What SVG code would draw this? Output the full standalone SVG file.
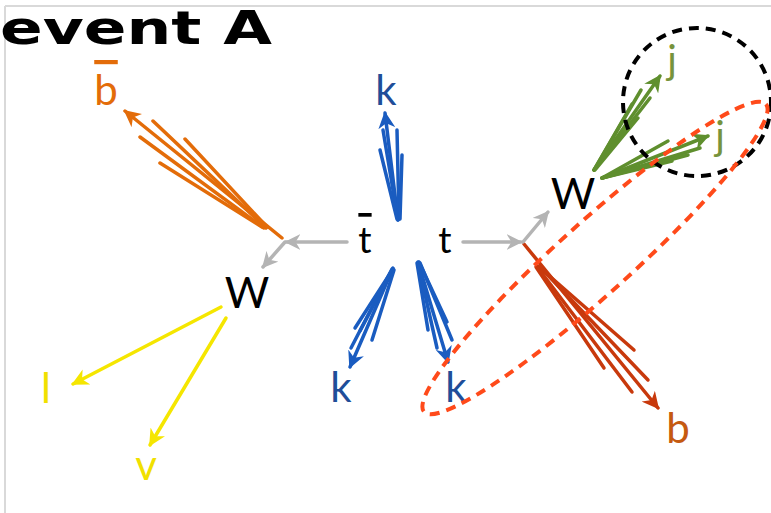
<svg xmlns="http://www.w3.org/2000/svg" width="771" height="513" viewBox="0 0 771 513">
<style>
.frame{stroke:#d9d9d9;stroke-width:2;fill:none}
.lbl{font-family:Lato,"Open Sans","DejaVu Sans",sans-serif;text-anchor:middle}
.title{font-family:"DejaVu Sans","Liberation Sans",sans-serif;font-weight:bold;font-size:47px;fill:#000}
.jet{fill:none;stroke-width:3.5;stroke-linecap:round}
.or{stroke:#e36c09}.bl{stroke:#1a5cc0}.rd{stroke:#c8390c}.gr{stroke:#5f8f2e}.gy{stroke:#b4b4b4}.yl{stroke:#f5e600}
.dash{fill:none;stroke-width:4;stroke-dasharray:10 7}
</style>
<defs>
<marker id="aor" viewBox="0 0 10 10" refX="9" refY="5" markerWidth="17" markerHeight="17" markerUnits="userSpaceOnUse" orient="auto"><path d="M0,0 L10,5 L0,10 L3,5 z" fill="#e36c09"/></marker>
<marker id="abl" viewBox="0 0 10 10" refX="9" refY="5" markerWidth="17" markerHeight="17" markerUnits="userSpaceOnUse" orient="auto"><path d="M0,0 L10,5 L0,10 L3,5 z" fill="#1a5cc0"/></marker>
<marker id="ard" viewBox="0 0 10 10" refX="9" refY="5" markerWidth="17" markerHeight="17" markerUnits="userSpaceOnUse" orient="auto"><path d="M0,0 L10,5 L0,10 L3,5 z" fill="#c8390c"/></marker>
<marker id="agr" viewBox="0 0 10 10" refX="9" refY="5" markerWidth="17" markerHeight="17" markerUnits="userSpaceOnUse" orient="auto"><path d="M0,0 L10,5 L0,10 L3,5 z" fill="#5f8f2e"/></marker>
<marker id="agy" viewBox="0 0 10 10" refX="9" refY="5" markerWidth="16" markerHeight="16" markerUnits="userSpaceOnUse" orient="auto"><path d="M0,0 L10,5 L0,10 L3,5 z" fill="#b4b4b4"/></marker>
<marker id="ayl" viewBox="0 0 10 10" refX="9" refY="5" markerWidth="17" markerHeight="17" markerUnits="userSpaceOnUse" orient="auto"><path d="M0,0 L10,5 L0,10 L3,5 z" fill="#f5e600"/></marker>
</defs>
<rect width="771" height="513" fill="#fff"/>
<line class="frame" x1="5" y1="6" x2="5" y2="513"/>
<line class="frame" x1="5" y1="6" x2="771" y2="6"/>
<text class="title" x="0" y="44" textLength="272" lengthAdjust="spacingAndGlyphs">event A</text>

<g id="connectors">
  <g id="jet-bbar">
    <path class="jet or" d="M282,238 L125,111" marker-end="url(#aor)"/>
    <path class="jet or" d="M266,228 L153,121"/>
    <path class="jet or" d="M264,228 L140,137"/>
    <path class="jet or" d="M267,227 L185,139"/>
    <path class="jet or" d="M262,227 L160,163"/>
  </g>
  <g id="jet-k-top">
    <path class="jet bl" d="M398,220 L385,113" marker-end="url(#abl)"/>
    <path class="jet bl" d="M398,220 L383,130"/>
    <path class="jet bl" d="M399,219 L397,130"/>
    <path class="jet bl" d="M397,219 L380,150"/>
    <path class="jet bl" d="M400,219 L402,155"/>
  </g>
  <g id="jet-k-left">
    <path class="jet bl" d="M393,268 L350,367" marker-end="url(#abl)"/>
    <path class="jet bl" d="M393,269 L355,328"/>
    <path class="jet bl" d="M392,270 L360,331"/>
    <path class="jet bl" d="M394,270 L372,340"/>
    <path class="jet bl" d="M392,269 L351,348"/>
  </g>
  <g id="jet-k-right">
    <path class="jet bl" d="M418,262 L448,362" marker-end="url(#abl)"/>
    <path class="jet bl" d="M419,262 L447,322"/>
    <path class="jet bl" d="M417,263 L428,330"/>
    <path class="jet bl" d="M418,263 L437,348"/>
    <path class="jet bl" d="M420,263 L452,340"/>
  </g>
  <g id="jet-b">
    <path class="jet rd" d="M524,244 L658,408" marker-end="url(#ard)"/>
    <path class="jet rd" d="M538,266 L634,350"/>
    <path class="jet rd" d="M540,267 L648,380"/>
    <path class="jet rd" d="M536,267 L604,368"/>
    <path class="jet rd" d="M538,268 L632,392"/>
  </g>
  <g id="jet-j1">
    <path class="jet gr" d="M594,170 L660,76" marker-end="url(#agr)"/>
    <path class="jet gr" d="M594,170 L641,90"/>
    <path class="jet gr" d="M594,170 L650,98"/>
    <path class="jet gr" d="M595,170 L638,118"/>
    <path class="jet gr" d="M594,170 L632,104"/>
  </g>
  <g id="jet-j2">
    <path class="jet gr" d="M602,178 L708,136" marker-end="url(#agr)"/>
    <path class="jet gr" d="M602,178 L668,141"/>
    <path class="jet gr" d="M602,178 L700,148"/>
    <path class="jet gr" d="M602,178 L672,161"/>
    <path class="jet gr" d="M602,178 L688,155"/>
  </g>
  <g id="gray-arrows">
    <path class="jet gy" d="M347,242 L286,242" marker-end="url(#agy)"/>
    <path class="jet gy" d="M285,242 L263,267" marker-end="url(#agy)"/>
    <path class="jet gy" d="M463,242 L521,242" marker-end="url(#agy)"/>
    <path class="jet gy" d="M523,242 L548,212" marker-end="url(#agy)"/>
  </g>
  <g id="lepton-arrows">
    <path class="jet yl" d="M221,307 L73,384" marker-end="url(#ayl)"/>
    <path class="jet yl" d="M226,318 L150,445" marker-end="url(#ayl)"/>
  </g>
</g>

<g id="node-tbar"><text class="lbl" x="365" y="253" font-size="37" fill="#000" text-decoration="overline">t</text></g>
<g id="node-t"><text class="lbl" x="445" y="253" font-size="37" fill="#000">t</text></g>
<g id="node-W-left"><text class="lbl" x="247" y="308" font-size="43" fill="#000">W</text></g>
<g id="node-W-right"><text class="lbl" x="573" y="209" font-size="43" fill="#000">W</text></g>
<g id="node-bbar"><text class="lbl" x="106" y="105" font-size="42" fill="#e36c09" text-decoration="overline">b</text></g>
<g id="node-k-top"><text class="lbl" x="386" y="105" font-size="42" fill="#1f4e99">k</text></g>
<g id="node-k-left"><text class="lbl" x="341" y="402" font-size="42" fill="#1f4e99">k</text></g>
<g id="node-k-right"><text class="lbl" x="456" y="402" font-size="42" fill="#1f4e99">k</text></g>
<g id="node-b"><text class="lbl" x="678" y="443" font-size="42" fill="#c55a11">b</text></g>
<g id="node-j1"><text class="lbl" x="672" y="74" font-size="40" fill="#77933c">j</text></g>
<g id="node-j2"><text class="lbl" x="720" y="150" font-size="40" fill="#77933c">j</text></g>
<g id="node-l"><text class="lbl" x="46" y="403" font-size="42" fill="#f0e000">l</text></g>
<g id="node-v"><text class="lbl" x="146" y="480" font-size="42" fill="#f0e000">v</text></g>

<g id="groupings">
  <circle class="dash" cx="697" cy="102" r="74" stroke="#000"/>
  <ellipse class="dash" cx="595" cy="258" rx="230" ry="36" transform="rotate(-42 595 258)" stroke="#ff4a1a"/>
</g>
</svg>
